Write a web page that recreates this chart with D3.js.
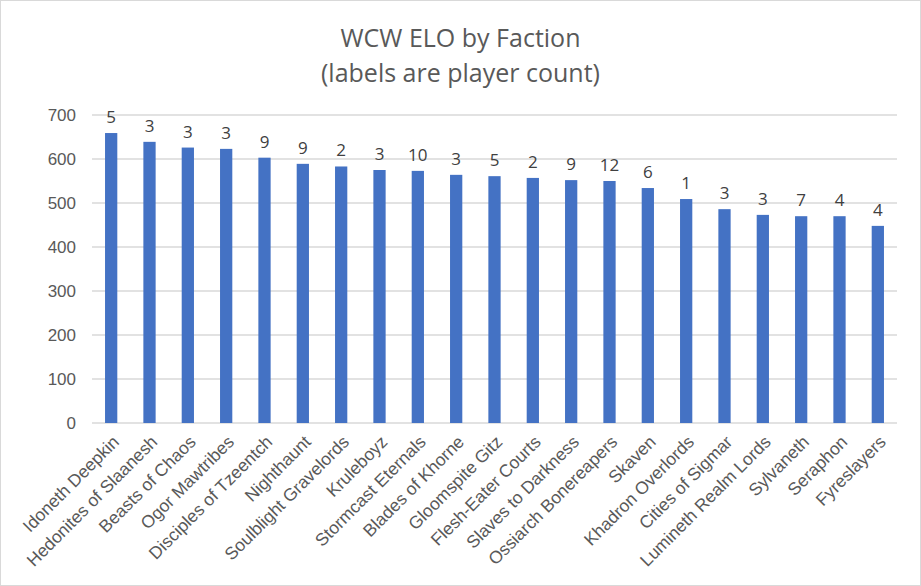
<!DOCTYPE html>
<html>
<head>
<meta charset="utf-8">
<script src="https://cdn.jsdelivr.net/npm/d3@7"></script>
<style>
	body { margin: 0; background: #fff; }
	svg { font-family: "Open Sans", sans-serif; }
</style>
</head>
<body>
<svg id="chart"></svg>
<script>
let width = 921;
let height = 586;

const factions = [
	"Idoneth Deepkin", "Hedonites of Slaanesh", "Beasts of Chaos", "Ogor Mawtribes",
	"Disciples of Tzeentch", "Nighthaunt", "Soulblight Gravelords", "Kruleboyz",
	"Stormcast Eternals", "Blades of Khorne", "Gloomspite Gitz", "Flesh-Eater Courts",
	"Slaves to Darkness", "Ossiarch Bonereapers", "Skaven", "Khadron Overlords",
	"Cities of Sigmar", "Lumineth Realm Lords", "Sylvaneth", "Seraphon", "Fyreslayers"
];
const elo = [659, 639, 626, 623, 603, 589, 583, 575, 573, 564, 561, 557, 552, 550, 534, 509, 486, 473, 470, 470, 448];
const players = [5, 3, 3, 3, 9, 9, 2, 3, 10, 3, 5, 2, 9, 12, 6, 1, 3, 3, 7, 4, 4];
const yTicks = [0, 100, 200, 300, 400, 500, 600, 700];

const margin = { left: 92, right: 24, top: 115, bottom: 163 };

function draw() {
	const svg = d3.select("#chart");
	svg.attr("width", width).attr("height", height);

	svg.append("rect")
		.attr("x", 0.5).attr("y", 0.5)
		.attr("width", width - 1).attr("height", height - 1)
		.attr("fill", "white")
		.attr("stroke", "#d9d9d9");

	const x = d3.scaleBand()
		.domain(factions)
		.range([margin.left, width - margin.right])
		.paddingInner(0.68)
		.paddingOuter(0.34);

	const y = d3.scaleLinear()
		.domain([0, 700])
		.range([height - margin.bottom, margin.top]);

	// gridlines
	svg.append("g")
		.selectAll("line")
		.data(yTicks)
		.enter()
		.append("line")
		.attr("x1", margin.left)
		.attr("x2", width - margin.right)
		.attr("y1", (d) => y(d))
		.attr("y2", (d) => y(d))
		.attr("stroke", "#d9d9d9")
		.attr("stroke-width", 1.3);

	// y axis labels
	const yAxis = d3.axisLeft(y).tickValues(yTicks).tickSize(0).tickPadding(16);
	const yg = svg.append("g")
		.attr("transform", `translate(${margin.left},0)`)
		.call(yAxis);
	yg.select(".domain").remove();
	yg.selectAll("text")
		.attr("fill", "#595959")
		.style("font-size", "17px");

	// bars
	svg.append("g")
		.selectAll("rect")
		.data(factions)
		.enter()
		.append("rect")
		.attr("x", (d) => x(d))
		.attr("y", (d, i) => y(elo[i]))
		.attr("width", x.bandwidth())
		.attr("height", (d, i) => y(0) - y(elo[i]))
		.attr("fill", "#4472c4");

	// data labels
	svg.append("g")
		.selectAll("text")
		.data(factions)
		.enter()
		.append("text")
		.attr("x", (d) => x(d) + x.bandwidth() / 2)
		.attr("y", (d, i) => y(elo[i]) - 10)
		.attr("text-anchor", "middle")
		.attr("fill", "#404040")
		.style("font-size", "17px")
		.text((d, i) => players[i]);

	// x axis
	const xAxis = d3.axisBottom(x).tickSize(0).tickPadding(0);
	const xg = svg.append("g")
		.attr("transform", `translate(0,${y(0)})`)
		.call(xAxis);
	xg.select(".domain").remove();
	xg.selectAll("text")
		.attr("fill", "#595959")
		.style("font-size", "17.5px")
		.attr("text-anchor", "end")
		.attr("dy", 0)
		.attr("transform", "translate(9,20) rotate(-45)");

	// title
	svg.append("text")
		.attr("x", width / 2)
		.attr("y", 47)
		.attr("text-anchor", "middle")
		.attr("fill", "#595959")
		.style("font-size", "25px")
		.text("WCW ELO by Faction");
	svg.append("text")
		.attr("x", width / 2)
		.attr("y", 82)
		.attr("text-anchor", "middle")
		.attr("fill", "#595959")
		.style("font-size", "25px")
		.text("(labels are player count)");
}

draw();
</script>
</body>
</html>
